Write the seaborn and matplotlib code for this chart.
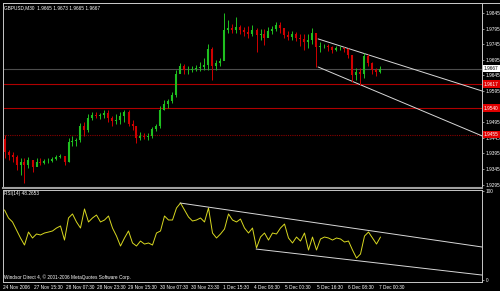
import numpy as np
import pandas as pd
import matplotlib
matplotlib.use("Agg")
import matplotlib.pyplot as plt
import seaborn as sns
from matplotlib.lines import Line2D

# ---------------- data ----------------
title_text = "GBPUSD,M30  1.9665 1.9673 1.9665 1.9667"
rsi_title = "RSI(14) 48.2653"
copyright_text = "Windsor Direct 4, \u00a9 2001-2006 MetaQuotes Software Corp."

first_open = 1.9440
high = [1.9454, 1.9406, 1.9400, 1.9390, 1.9380, 1.9380, 1.9384, 1.9374, 1.9380, 1.9380,
        1.9377, 1.9380, 1.9384, 1.9390, 1.9393, 1.9387, 1.9444, 1.9451, 1.9444, 1.9493,
        1.9496, 1.9521, 1.9528, 1.9528, 1.9525, 1.9534, 1.9534, 1.9515, 1.9521, 1.9528,
        1.9534, 1.9534, 1.9502, 1.9477, 1.9464, 1.9460, 1.9460, 1.9480, 1.9489, 1.9547,
        1.9566, 1.9569, 1.9592, 1.9662, 1.9685, 1.9682, 1.9675, 1.9675, 1.9678, 1.9688,
        1.9701, 1.9746, 1.9736, 1.9694, 1.9701, 1.9845, 1.9823, 1.9810, 1.9832, 1.9807,
        1.9800, 1.9803, 1.9807, 1.9797, 1.9794, 1.9794, 1.9800, 1.9803, 1.9816, 1.9816,
        1.9794, 1.9787, 1.9787, 1.9784, 1.9778, 1.9778, 1.9778, 1.9797, 1.9765, 1.9752,
        1.9746, 1.9746, 1.9739, 1.9739, 1.9739, 1.9736, 1.9733, 1.9710, 1.9669, 1.9669,
        1.9717, 1.9714, 1.9688, 1.9669, 1.9675]
low = [1.9380, 1.9374, 1.9368, 1.9342, 1.9326, 1.9300, 1.9348, 1.9336, 1.9355, 1.9358,
       1.9361, 1.9364, 1.9368, 1.9374, 1.9380, 1.9358, 1.9368, 1.9419, 1.9419, 1.9432,
       1.9451, 1.9464, 1.9502, 1.9509, 1.9505, 1.9509, 1.9496, 1.9483, 1.9489, 1.9489,
       1.9496, 1.9483, 1.9470, 1.9428, 1.9438, 1.9441, 1.9438, 1.9444, 1.9467, 1.9477,
       1.9534, 1.9541, 1.9557, 1.9576, 1.9656, 1.9650, 1.9650, 1.9656, 1.9659, 1.9659,
       1.9662, 1.9662, 1.9630, 1.9662, 1.9675, 1.9694, 1.9781, 1.9781, 1.9781, 1.9778,
       1.9771, 1.9765, 1.9771, 1.9720, 1.9759, 1.9743, 1.9771, 1.9778, 1.9787, 1.9781,
       1.9765, 1.9759, 1.9759, 1.9755, 1.9739, 1.9727, 1.9733, 1.9746, 1.9672, 1.9720,
       1.9733, 1.9723, 1.9717, 1.9723, 1.9727, 1.9720, 1.9701, 1.9624, 1.9630, 1.9614,
       1.9637, 1.9675, 1.9650, 1.9643, 1.9653]
close = [1.9400, 1.9390, 1.9384, 1.9358, 1.9368, 1.9358, 1.9374, 1.9352, 1.9368, 1.9364,
         1.9371, 1.9371, 1.9377, 1.9384, 1.9387, 1.9368, 1.9432, 1.9435, 1.9438, 1.9483,
         1.9470, 1.9509, 1.9518, 1.9515, 1.9518, 1.9525, 1.9509, 1.9499, 1.9502, 1.9515,
         1.9528, 1.9489, 1.9483, 1.9444, 1.9451, 1.9448, 1.9451, 1.9473, 1.9483, 1.9534,
         1.9553, 1.9563, 1.9582, 1.9650, 1.9675, 1.9662, 1.9662, 1.9666, 1.9669, 1.9672,
         1.9678, 1.9730, 1.9675, 1.9685, 1.9691, 1.9791, 1.9797, 1.9791, 1.9800, 1.9791,
         1.9784, 1.9778, 1.9791, 1.9775, 1.9778, 1.9765, 1.9787, 1.9794, 1.9807, 1.9797,
         1.9775, 1.9768, 1.9778, 1.9765, 1.9762, 1.9752, 1.9759, 1.9781, 1.9736, 1.9739,
         1.9739, 1.9736, 1.9727, 1.9733, 1.9733, 1.9730, 1.9710, 1.9646, 1.9656, 1.9650,
         1.9707, 1.9685, 1.9662, 1.9656, 1.9667]
rsi = [78.7, 69.7, 65.2, 56.2, 47.2, 39.3, 53.9, 47.2, 51.7, 50.6,
       52.8, 53.9, 55.1, 58.4, 60.7, 44.9, 69.7, 74.2, 65.2, 58.4,
       79.8, 65.2, 69.7, 73.0, 65.2, 67.4, 71.9, 58.4, 49.4, 38.2,
       47.2, 55.1, 41.6, 38.2, 43.8, 40.4, 41.6, 39.3, 52.8, 55.1,
       71.9, 67.4, 67.4, 80.9, 86.5, 78.7, 70.8, 66.3, 67.4, 69.7,
       65.2, 80.9, 52.8, 47.2, 51.7, 57.3, 74.2, 67.4, 65.2, 68.5,
       58.4, 52.8, 58.4, 36.0, 48.3, 52.8, 44.9, 52.8, 51.7, 58.4,
       62.9, 47.2, 41.6, 48.3, 43.8, 52.8, 33.7, 48.3, 33.7, 46.1,
       48.3, 47.2, 44.9, 47.2, 46.1, 42.7, 43.8, 33.7, 24.7, 29.2,
       49.4, 53.9, 47.2, 40.4, 48.3]

date_labels = ["24 Nov 2006", "27 Nov 15:30", "28 Nov 07:30", "28 Nov 23:30",
               "29 Nov 15:30", "30 Nov 07:30", "30 Nov 23:30", "1 Dec 15:30",
               "4 Dec 08:30", "5 Dec 00:30", "5 Dec 16:30", "6 Dec 08:30", "7 Dec 00:30"]
price_ticks = [1.9845, 1.9795, 1.9745, 1.9695, 1.9645, 1.9595, 1.9545,
               1.9495, 1.9445, 1.9395, 1.9345, 1.9295]

bid_level = 1.9667
red_levels = [1.9617, 1.9540]
dotted_level = 1.9455

# trendlines: (bar index, value) endpoints
price_chan_upper_x = [78.4, 119.4]
price_chan_upper_y = [1.9762, 1.9595]
price_chan_lower_x = [78.4, 119.4]
price_chan_lower_y = [1.9672, 1.9451]
rsi_chan_upper_x = [43.9, 119.4]
rsi_chan_upper_y = [86.5, 37.1]
rsi_chan_lower_x = [62.9, 119.4]
rsi_chan_lower_y = [34.8, 5.6]

# ---------------- style ----------------
sns.set_style("dark", {"axes.facecolor": "black", "figure.facecolor": "black"})
plt.rcParams["font.family"] = ["Liberation Sans", "DejaVu Sans"]

BG = "black"
FRAME = "#c8c8c8"
TXT = "#ffffff"
UP = "#1fbf1f"
DN = "#d00000"
FS = 3.4

df = pd.DataFrame({"high": high, "low": low, "close": close})
df["open"] = [first_open] + close[:-1]
df["idx"] = np.arange(len(df))
df["up"] = df["close"] >= df["open"]

fig = plt.figure(figsize=(5.0, 2.91), dpi=100, facecolor=BG)
W, H = 500.0, 291.0
axp = fig.add_axes([3 / W, (H - 188) / H, 479 / W, 185 / H], facecolor=BG)
axr = fig.add_axes([3 / W, (H - 282) / H, 479 / W, 92 / H], facecolor=BG, sharex=axp)

xlim = (-0.375, 119.375)

# ---- price panel ----
axp.axhline(bid_level, color="#4d4d4d", lw=0.8, zorder=1)
for lv in red_levels:
    axp.axhline(lv, color="#b00000", lw=0.8, zorder=1)
axp.axhline(dotted_level, color="#8a0000", lw=0.8, ls=(0, (1, 1)), zorder=1)

for up, g in df.groupby("up"):
    col = UP if up else DN
    axp.vlines(g["idx"], g["low"], g["high"], color=col, lw=0.7, zorder=3)
    axp.vlines(g["idx"], g[["open", "close"]].min(axis=1), g[["open", "close"]].max(axis=1),
               color=col, lw=1.5, zorder=3)

sns.lineplot(x=price_chan_upper_x, y=price_chan_upper_y, ax=axp, color="#d8d8d8", lw=0.7)
sns.lineplot(x=price_chan_lower_x, y=price_chan_lower_y, ax=axp, color="#d8d8d8", lw=0.7)

axp.set_xlim(*xlim)
ymax = 1.9845 + 10 / 3120
ymin = 1.9845 - 175 / 3120
axp.set_ylim(ymin, ymax)
axp.yaxis.tick_right()
axp.set_yticks(price_ticks)
box_levels = [bid_level] + red_levels + [dotted_level]
tick_text = ["" if min(abs(t - b) for b in box_levels) < 0.001 else f"{t:.4f}"
             for t in price_ticks]
axp.set_yticklabels(tick_text)
axp.tick_params(axis="y", colors=FRAME, labelcolor=TXT, labelsize=FS, length=1.5,
                width=0.5, pad=1)
axp.tick_params(axis="x", bottom=False, labelbottom=False)
for s in axp.spines.values():
    s.set_color(FRAME)
    s.set_linewidth(0.7)
axp.spines["bottom"].set_color("#a0a0a0")
axp.spines["bottom"].set_linewidth(1.5)
axp.set_xlabel("")
axp.set_ylabel("")

axp.text(0.003, 0.985, title_text, transform=axp.transAxes, ha="left", va="top",
         color=TXT, fontsize=FS)

def level_box(ax, val, text, fc, tc):
    ax.annotate(text, xy=(1, val), xycoords=("axes fraction", "data"),
                xytext=(1.3, 0), textcoords="offset points", ha="left", va="center",
                fontsize=FS, color=tc, annotation_clip=False, zorder=10,
                bbox=dict(boxstyle="square,pad=0.25", fc=fc, ec="none"))

level_box(axp, bid_level, f"{bid_level:.4f}", "white", "black")
for lv in red_levels:
    level_box(axp, lv, f"{lv:.4f}", "#e00000", "white")
level_box(axp, dotted_level, f"{dotted_level:.4f}", "#e00000", "white")

# ---- RSI panel ----
sns.lineplot(x=df["idx"], y=rsi, ax=axr, color="#d8d820", lw=0.7)
sns.lineplot(x=rsi_chan_upper_x, y=rsi_chan_upper_y, ax=axr, color="#d8d8d8", lw=0.7)
sns.lineplot(x=rsi_chan_lower_x, y=rsi_chan_lower_y, ax=axr, color="#d8d8d8", lw=0.7)
axr.set_ylim(-2.2, 101.1)
axr.set_xlim(*xlim)
axr.yaxis.tick_right()
axr.set_yticks([0, 100])
axr.set_yticklabels(["0", "100"])
axr.tick_params(axis="y", colors=FRAME, labelcolor=TXT, labelsize=FS, length=1.5,
                width=0.5, pad=1)
xt = -0.375 + 7.84 * np.arange(len(date_labels))
axr.set_xticks(xt)
axr.set_xticklabels(date_labels)
for lab in axr.get_xticklabels():
    lab.set_horizontalalignment("left")
axr.tick_params(axis="x", colors=FRAME, labelcolor=TXT, labelsize=FS, length=1.5,
                width=0.5, pad=0.8)
for s in axr.spines.values():
    s.set_color(FRAME)
    s.set_linewidth(0.7)
axr.set_xlabel("")
axr.set_ylabel("")
axr.text(0.003, 0.985, rsi_title, transform=axr.transAxes, ha="left", va="top",
         color=TXT, fontsize=FS)
axr.text(0.003, 0.02, copyright_text, transform=axr.transAxes, ha="left", va="bottom",
         color=TXT, fontsize=FS)

fig.add_artist(Line2D([3 / W, 1.0], [(H - 3) / H, (H - 3) / H], color=FRAME, lw=0.7,
                      transform=fig.transFigure))

fig.savefig("out.png", dpi=100, facecolor=BG)
